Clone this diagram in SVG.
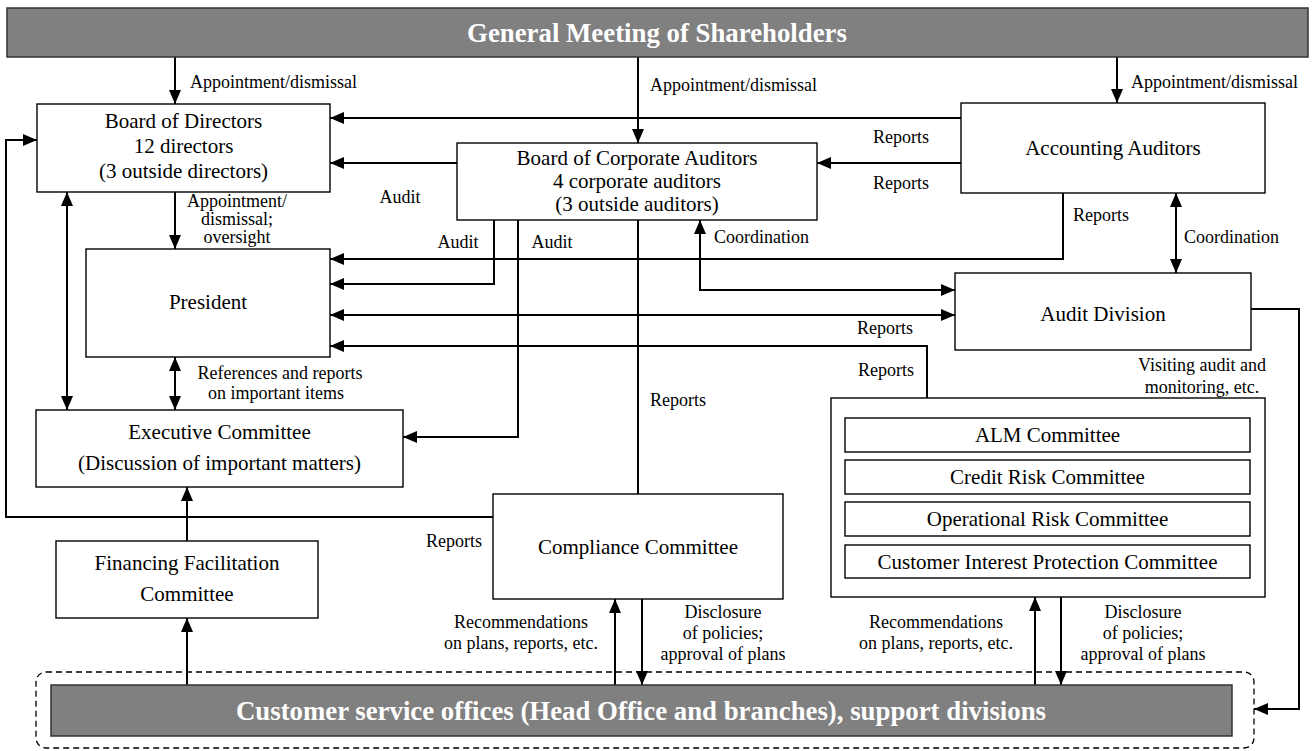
<svg xmlns="http://www.w3.org/2000/svg" width="1312" height="751" viewBox="0 0 1312 751">
<defs>
<marker id="ah" viewBox="0 0 14 12" refX="14" refY="6" markerWidth="14" markerHeight="12" markerUnits="userSpaceOnUse" orient="auto-start-reverse"><path d="M0,0 L14,6 L0,12 z" fill="#000"/></marker>
</defs>
<style>
.box{fill:#fff;stroke:#000;stroke-width:1.4}
.bar{fill:#808080;stroke:#333;stroke-width:1.5}
.t{font-family:"Liberation Serif","Times New Roman",serif;font-size:21px;fill:#000;text-anchor:middle}
.l{font-family:"Liberation Serif","Times New Roman",serif;font-size:18px;fill:#000}
.lc{text-anchor:middle}
.bt{font-family:"Liberation Serif","Times New Roman",serif;font-size:26.8px;font-weight:bold;fill:#fff;text-anchor:middle}
.c{fill:none;stroke:#000;stroke-width:2}
.a{marker-end:url(#ah)}
.b{marker-start:url(#ah);marker-end:url(#ah)}
.dash{fill:none;stroke:#000;stroke-width:1.3;stroke-dasharray:6 4}
</style>
<rect width="1312" height="751" fill="#fff"/>

<g id="connectors">
<path class="c a" d="M175,57 V104"/>
<path class="c a" d="M638,57 V143"/>
<path class="c a" d="M1117,57 V103"/>
<path class="c a" d="M961,118 H330"/>
<path class="c a" d="M961,163 H817"/>
<path class="c a" d="M457,163 H330"/>
<path class="c a" d="M175,192 V249"/>
<path class="c a" d="M1063,193 V259 H330"/>
<path class="c a" d="M494,220 V284 H330"/>
<path class="c a" d="M518,220 V437 H403"/>
<path class="c" d="M638,220 V494"/>
<path class="c b" d="M700,220 V290 H955"/>
<path class="c b" d="M1176,193 V273"/>
<path class="c b" d="M330,315 H955"/>
<path class="c a" d="M927,398 V346 H330"/>
<path class="c b" d="M175,357 V410"/>
<path class="c b" d="M67,192 V410"/>
<path class="c a" d="M493,517 H6 V140 H37"/>
<path class="c a" d="M187,541 V487"/>
<path class="c a" d="M187,685 V618"/>
<path class="c a" d="M615,685 V599"/>
<path class="c a" d="M642,599 V685"/>
<path class="c a" d="M1035,685 V597"/>
<path class="c a" d="M1061,597 V685"/>
<path class="c a" d="M1251,309 H1299 V709 H1254"/>
</g>

<g id="labels">
<text class="l" x="190" y="88">Appointment/dismissal</text>
<text class="l" x="650" y="91">Appointment/dismissal</text>
<text class="l" x="1131" y="88">Appointment/dismissal</text>
<text class="l" x="873" y="143">Reports</text>
<text class="l" x="873" y="189">Reports</text>
<text class="l lc" x="400" y="203">Audit</text>
<text class="l lc" x="237" y="207">Appointment/</text>
<text class="l lc" x="237" y="225">dismissal;</text>
<text class="l lc" x="237" y="243">oversight</text>
<text class="l" x="1073" y="221">Reports</text>
<text class="l lc" x="458" y="248">Audit</text>
<text class="l lc" x="552" y="248">Audit</text>
<text class="l" x="714" y="243">Coordination</text>
<text class="l" x="1184" y="243">Coordination</text>
<text class="l" x="857" y="334">Reports</text>
<text class="l" x="858" y="376">Reports</text>
<text class="l lc" x="1202" y="371">Visiting audit and</text>
<text class="l lc" x="1202" y="393">monitoring, etc.</text>
<text class="l lc" x="280" y="379">References and reports</text>
<text class="l lc" x="276" y="399">on important items</text>
<text class="l" x="650" y="406">Reports</text>
<text class="l" x="426" y="547">Reports</text>
<text class="l lc" x="521" y="628">Recommendations</text>
<text class="l lc" x="521" y="649">on plans, reports, etc.</text>
<text class="l lc" x="723" y="618">Disclosure</text>
<text class="l lc" x="723" y="639">of policies;</text>
<text class="l lc" x="723" y="660">approval of plans</text>
<text class="l lc" x="936" y="628">Recommendations</text>
<text class="l lc" x="936" y="649">on plans, reports, etc.</text>
<text class="l lc" x="1143" y="618">Disclosure</text>
<text class="l lc" x="1143" y="639">of policies;</text>
<text class="l lc" x="1143" y="660">approval of plans</text>
</g>

<g id="shareholders">
<rect class="bar" x="7" y="8" width="1301" height="49"/>
<text class="bt" x="657" y="42">General Meeting of Shareholders</text>
</g>

<g id="board-of-directors">
<rect class="box" x="37" y="104" width="293" height="88"/>
<text class="t" x="183.5" y="128">Board of Directors</text>
<text class="t" x="183.5" y="153">12 directors</text>
<text class="t" x="183.5" y="178">(3 outside directors)</text>
</g>

<g id="board-of-corporate-auditors">
<rect class="box" x="457" y="143" width="360" height="77"/>
<text class="t" x="637" y="165">Board of Corporate Auditors</text>
<text class="t" x="637" y="188">4 corporate auditors</text>
<text class="t" x="637" y="211">(3 outside auditors)</text>
</g>

<g id="accounting-auditors">
<rect class="box" x="961" y="103" width="304" height="90"/>
<text class="t" x="1113" y="155">Accounting Auditors</text>
</g>

<g id="president">
<rect class="box" x="86" y="249" width="244" height="108"/>
<text class="t" x="208" y="309">President</text>
</g>

<g id="audit-division">
<rect class="box" x="955" y="273" width="296" height="77"/>
<text class="t" x="1103" y="321">Audit Division</text>
</g>

<g id="executive-committee">
<rect class="box" x="36" y="410" width="367" height="77"/>
<text class="t" x="219.5" y="439">Executive Committee</text>
<text class="t" x="219.5" y="470">(Discussion of important matters)</text>
</g>

<g id="financing-facilitation-committee">
<rect class="box" x="56" y="541" width="262" height="77"/>
<text class="t" x="187" y="570">Financing Facilitation</text>
<text class="t" x="187" y="601">Committee</text>
</g>

<g id="compliance-committee">
<rect class="box" x="493" y="494" width="290" height="105"/>
<text class="t" x="638" y="554">Compliance Committee</text>
</g>

<g id="risk-committees">
<rect class="box" x="831" y="398" width="434" height="199"/>
<rect class="box" x="845" y="418" width="405" height="34"/>
<text class="t" x="1047.5" y="442">ALM Committee</text>
<rect class="box" x="845" y="460" width="405" height="34"/>
<text class="t" x="1047.5" y="484">Credit Risk Committee</text>
<rect class="box" x="845" y="502" width="405" height="34"/>
<text class="t" x="1047.5" y="526">Operational Risk Committee</text>
<rect class="box" x="845" y="545" width="405" height="33"/>
<text class="t" x="1047.5" y="569">Customer Interest Protection Committee</text>
</g>

<g id="customer-service-offices">
<rect class="dash" x="36" y="672" width="1218" height="76" rx="10"/>
<rect class="bar" x="51" y="685" width="1181" height="51"/>
<text class="bt" x="641" y="720">Customer service offices (Head Office and branches), support divisions</text>
</g>
</svg>
